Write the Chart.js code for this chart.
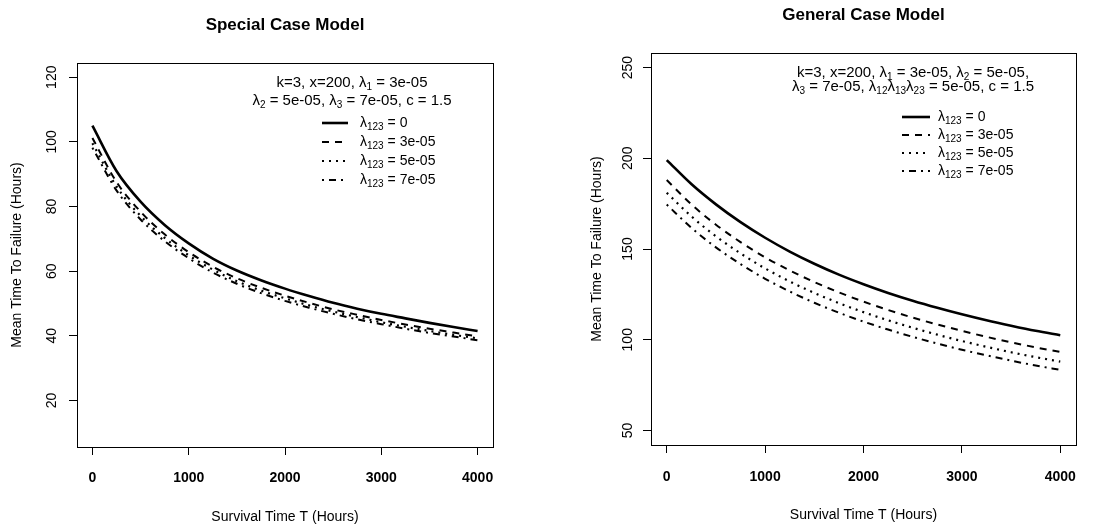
<!DOCTYPE html>
<html lang="en">
<head>
  <meta charset="UTF-8">
  <title>Special and General Case Model - Mean Time To Failure</title>
  <script src="https://cdn.jsdelivr.net/npm/chart.js"></script>
  <style>
    body {
      margin: 0;
      background: #fff;
      width: 1120px;
      height: 529px;
      overflow: hidden;
      position: relative;
    }
    .panel {
      position: absolute;
      top: 0;
      width: 560px;
      height: 529px;
    }
    #leftPanel { left: 0; }
    #rightPanel { left: 560px; }
  </style>
</head>
<body>

<div class="panel" id="leftPanel"><canvas id="specialChart" width="560" height="529"></canvas></div>
<div class="panel" id="rightPanel"><canvas id="generalChart" width="560" height="529"></canvas></div>

<script>
// survival time T (hours)
const survivalTime = [0, 250, 500, 750, 1000, 1250, 1500, 1750, 2000, 2250, 2500, 2750, 3000, 3250, 3500, 3750, 4000];

// Special case model, MTTF (hours)
const special0  = [105.0, 91.0, 81.5, 74.3, 68.6, 63.9, 60.2, 57.2, 54.6, 52.3, 50.2, 48.4, 46.8, 45.4, 44.0, 42.7, 41.5];
const special3  = [101.2, 87.6, 78.4, 71.4, 65.9, 61.4, 57.8, 54.9, 52.4, 50.2, 48.2, 46.5, 44.9, 43.5, 42.2, 41.0, 39.8];
const special5  = [99.6, 86.2, 77.1, 70.3, 64.9, 60.5, 56.9, 54.0, 51.6, 49.4, 47.5, 45.8, 44.2, 42.8, 41.5, 40.3, 39.2];
const special7  = [98.2, 85.0, 76.0, 69.3, 64.0, 59.6, 56.1, 53.2, 50.8, 48.7, 46.8, 45.1, 43.6, 42.2, 40.9, 39.8, 38.6];

// General case model, MTTF (hours)
const general0  = [199.0, 185.8, 174.6, 164.8, 156.2, 148.6, 141.9, 135.9, 130.6, 125.8, 121.5, 117.6, 114.0, 110.7, 107.7, 104.9, 102.5];
const general3  = [188.0, 174.6, 163.4, 153.8, 145.4, 138.2, 131.8, 126.1, 121.0, 116.4, 112.2, 108.4, 104.9, 101.6, 98.6, 95.8, 93.3];
const general5  = [181.0, 168.0, 157.0, 147.6, 139.3, 132.1, 125.8, 120.2, 115.2, 110.7, 106.6, 102.8, 99.3, 96.1, 93.1, 90.4, 87.9];
const general7  = [174.5, 161.7, 150.9, 141.7, 133.6, 126.6, 120.4, 114.9, 110.0, 105.6, 101.6, 97.9, 94.5, 91.4, 88.5, 85.8, 83.4];

const xTicks = [0, 1000, 2000, 3000, 4000];
const specialYTicks = [20, 40, 60, 80, 100, 120];
const generalYTicks = [50, 100, 150, 200, 250];

// "_{..}" marks a subscript
const legendLabels = ['λ_{123} = 0', 'λ_{123} = 3e-05', 'λ_{123} = 5e-05', 'λ_{123} = 7e-05'];
const specialNotes = ['k=3, x=200, λ_{1} = 3e-05', 'λ_{2} = 5e-05, λ_{3} = 7e-05, c = 1.5'];
const generalNotes = ['k=3, x=200, λ_{1} = 3e-05, λ_{2} = 5e-05,', 'λ_{3} = 7e-05, λ_{12}λ_{13}λ_{23} = 5e-05, c = 1.5'];

// solid, dashed, dotted, dot-dash
const lineStyles = [
  { dash: [], width: 2.6 },
  { dash: [7, 6], width: 2 },
  { dash: [2, 5], width: 2.2 },
  { dash: [2, 5, 7, 5], width: 2 }
];

const FONT = '"Liberation Sans", Arial, Helvetica, sans-serif';

function drawRich(ctx, text, x, y, size, align) {
  const subSize = Math.round(size * 0.68);
  const parts = text.split(/(_\{[^}]*\})/).filter(p => p.length).map(p =>
    p.startsWith('_{') ? { t: p.slice(2, -1), sub: true } : { t: p, sub: false });
  let total = 0;
  parts.forEach(p => {
    ctx.font = `${p.sub ? subSize : size}px ${FONT}`;
    p.w = ctx.measureText(p.t).width;
    total += p.w;
  });
  let cx = align === 'center' ? x - total / 2 : x;
  ctx.textAlign = 'left';
  ctx.textBaseline = 'middle';
  parts.forEach(p => {
    ctx.font = `${p.sub ? subSize : size}px ${FONT}`;
    ctx.fillText(p.t, cx, p.sub ? y + size * 0.3 : y);
    cx += p.w;
  });
}

// box, title, parameter notes and legend, R style
const panelNotes = {
  id: 'panelNotes',
  afterDraw(chart, args, opts) {
    const ctx = chart.ctx;
    const a = chart.chartArea;
    ctx.save();
    ctx.strokeStyle = '#000';
    ctx.lineWidth = 1;
    ctx.setLineDash([]);
    ctx.strokeRect(Math.round(a.left) + 0.5, Math.round(a.top) + 0.5, Math.round(a.right - a.left), Math.round(a.bottom - a.top));

    ctx.fillStyle = '#000';
    ctx.font = `bold 17px ${FONT}`;
    ctx.textAlign = 'center';
    ctx.textBaseline = 'middle';
    ctx.fillText(opts.title, (a.left + a.right) / 2, opts.titleY);

    opts.notes.forEach((n, i) => drawRich(ctx, n, opts.noteX, opts.noteY + i * opts.noteGap, 15, 'center'));

    chart.data.datasets.forEach((ds, i) => {
      const y = opts.legendY + i * opts.legendGap;
      ctx.beginPath();
      ctx.setLineDash(ds.borderDash);
      ctx.lineWidth = ds.borderWidth;
      ctx.moveTo(opts.sampleX0, y);
      ctx.lineTo(opts.sampleX1, y);
      ctx.stroke();
      ctx.setLineDash([]);
      drawRich(ctx, legendLabels[i], opts.textX, y, 14, 'left');
    });
    ctx.restore();
  }
};

function makeChart(canvasId, series, yTicks, yMin, yMax, box, notes) {
  const datasets = series.map((values, i) => ({
    label: legendLabels[i].replace(/_\{([^}]*)\}/g, '$1'),
    data: survivalTime.map((t, j) => ({ x: t, y: values[j] })),
    borderColor: '#000',
    borderWidth: lineStyles[i].width,
    borderDash: lineStyles[i].dash,
    pointRadius: 0,
    fill: false,
    cubicInterpolationMode: 'monotone'
  }));

  return new Chart(document.getElementById(canvasId), {
    type: 'line',
    data: { datasets },
    options: {
      responsive: false,
      animation: false,
      layout: { padding: { top: box.top, right: 560 - box.right, left: 0, bottom: 0 } },
      plugins: {
        legend: { display: false },
        tooltip: { enabled: false },
        panelNotes: notes
      },
      scales: {
        x: {
          type: 'linear',
          min: -160,
          max: 4160,
          afterBuildTicks: s => { s.ticks = xTicks.map(v => ({ value: v })); },
          afterFit: s => { s.height = 529 - box.bottom; },
          border: { display: false },
          grid: { drawOnChartArea: false, drawTicks: true, tickLength: 8, color: '#000', lineWidth: 1 },
          ticks: {
            color: '#000',
            font: { family: FONT, size: 14, weight: 'bold' },
            padding: box.xTickPad,
            maxRotation: 0,
            callback: v => String(v)
          },
          title: {
            display: true,
            text: 'Survival Time T (Hours)',
            color: '#000',
            font: { family: FONT, size: 14 },
            padding: { top: 0, bottom: box.xTitlePad }
          }
        },
        y: {
          type: 'linear',
          min: yMin,
          max: yMax,
          afterBuildTicks: s => { s.ticks = yTicks.map(v => ({ value: v })); },
          afterFit: s => { s.width = box.left; },
          border: { display: false },
          grid: { drawOnChartArea: false, drawTicks: true, tickLength: 8, color: '#000', lineWidth: 1 },
          ticks: {
            color: '#000',
            font: { family: FONT, size: 14 },
            padding: box.yTickPad,
            minRotation: 90,
            maxRotation: 90,
            crossAlign: 'center',
            callback: v => String(v)
          },
          title: {
            display: true,
            text: 'Mean Time To Failure (Hours)',
            color: '#000',
            font: { family: FONT, size: 14 },
            padding: { top: box.yTitlePad, bottom: 0 }
          }
        }
      }
    },
    plugins: [panelNotes]
  });
}

makeChart('specialChart', [special0, special3, special5, special7], specialYTicks, 5.6, 124.4,
  { left: 77, top: 63, right: 493, bottom: 447, xTickPad: 14.6, xTitlePad: 3.6, yTickPad: 5, yTitlePad: 8.6 },
  { title: 'Special Case Model', titleY: 25,
    notes: specialNotes, noteX: 352, noteY: 83, noteGap: 18,
    sampleX0: 322, sampleX1: 348, textX: 360, legendY: 123, legendGap: 19 });

makeChart('generalChart', [general0, general3, general5, general7], generalYTicks, 42, 258,
  { left: 91, top: 53, right: 516, bottom: 445, xTickPad: 15.6, xTitlePad: 5.6, yTickPad: 3, yTitlePad: 28.6 },
  { title: 'General Case Model', titleY: 15,
    notes: generalNotes, noteX: 353, noteY: 73, noteGap: 14,
    sampleX0: 342, sampleX1: 370, textX: 378, legendY: 117, legendGap: 18 });
</script>

</body>
</html>
